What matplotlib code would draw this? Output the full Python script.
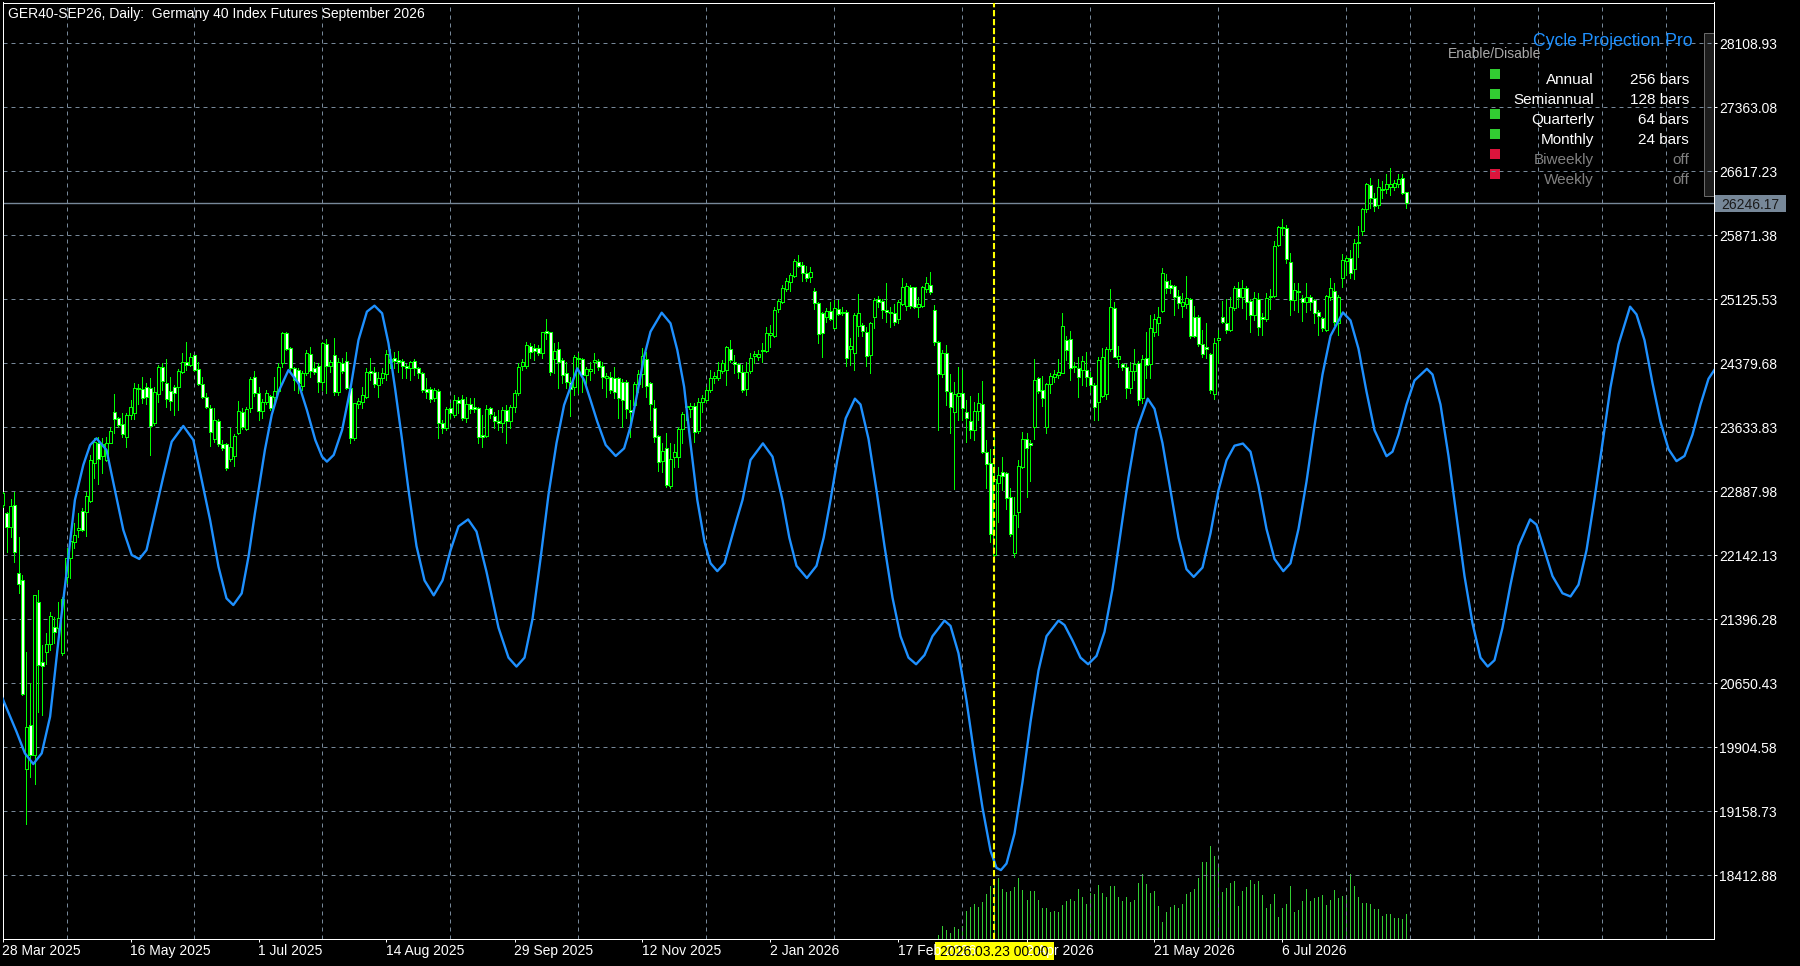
import matplotlib.pyplot as plt
from matplotlib.patches import Rectangle

plt.rcParams['font.family'] = ['Liberation Sans', 'DejaVu Sans']

header = 'GER40-SEP26, Daily:  Germany 40 Index Futures September 2026'

# daily bars, index 0 = 28 Mar 2025
opens = [
    22726, 22632, 22469, 22729, 21932, 21855, 19648, 20165, 19815, 21602,
    20895, 21020, 21109, 21311, 21291, 21000, 21894, 22107, 22302, 22437,
    22659, 22643, 22779, 23215, 23448, 23300, 23253, 23455, 23809, 23739,
    23673, 23525, 23778, 23797, 24096, 24077, 24100, 24096, 23680, 24023,
    24341, 24155, 24058, 24108, 24108, 24283, 24399, 24361, 24477, 24310,
    24135, 23984, 23863, 23498, 23712, 23436, 23436, 23261, 23300, 23572,
    23817, 23615, 23856, 24225, 24038, 23828, 23926, 23999, 23992, 24061,
    24380, 24730, 24555, 24322, 24302, 24116, 24263, 24485, 24329, 24353,
    24166, 24601, 24353, 24477, 24050, 24380, 24407, 24089, 23506, 23902,
    23925, 23991, 24291, 24283, 24127, 24205, 24256, 24426, 24438, 24419,
    24407, 24353, 24329, 24407, 24322, 24264, 24081, 24077, 23972, 24057,
    23681, 23630, 23855, 23778, 23953, 23964, 23747, 23902, 23867, 23863,
    23545, 23537, 23855, 23770, 23708, 23688, 23836, 23708, 23875, 24038,
    24349, 24353, 24586, 24562, 24562, 24504, 24757, 24741, 24426, 24547,
    24419, 24263, 24166, 24100, 24446, 24426, 24244, 24294, 24399, 24407,
    24349, 24213, 24224, 24213, 24205, 24166, 24158, 23836, 23894, 24139,
    24251, 24430, 24147, 23855, 23532, 23245, 23389, 22954, 23284, 23284,
    23610, 23871, 23844, 23886, 23591, 23925, 23952, 24069, 24213, 24213,
    24294, 24302, 24543, 24391, 24372, 24275, 24080, 24294, 24465, 24457,
    24523, 24523, 24710, 24702, 25009, 25091, 25246, 25331, 25398, 25557,
    25526, 25429, 25382, 25223, 25079, 24962, 24916, 24989, 24787, 25013,
    24962, 24974, 24543, 24496, 24819, 24826, 24741, 24477, 24916, 25126,
    25106, 25001, 24982, 24962, 24893, 25071, 25048, 25273, 25266, 25033,
    25052, 25242, 25293, 25001, 24624, 24251, 24496, 24049, 23809, 24003,
    24030, 23816, 23711, 23603, 23828, 23902, 23350, 23214, 22146, 22980,
    23110, 23098, 22826, 22173, 22643, 23175, 23494, 23447, 23642, 24213,
    24069, 23634, 24135, 24224, 24244, 24271, 24652, 24663, 24349, 24321,
    24302, 24302, 24224, 24127, 23933, 23999, 24018, 24543, 25021, 24430,
    24368, 24341, 24088, 24294, 24379, 23971, 24437, 24371, 24748, 24845,
    24993, 25339, 25292, 25284, 25164, 25051, 25071, 25125, 24923, 24915,
    24601, 24573, 24484, 24022, 24651, 24923, 24853, 24768, 25020, 25261,
    25156, 25261, 25106, 24942, 25125, 24915, 24892, 25164, 25164, 25758,
    25964, 25960, 25564, 25117, 25226, 25144, 25098, 25156, 25117, 24973,
    24904, 24767, 25156, 25222, 24845, 25378, 25572, 25611, 25475, 25785,
    25925, 26174, 26458, 26302, 26225, 26412, 26411, 26438, 26438, 26469,
    26535, 26372,
]
highs = [
    22886, 22651, 22795, 22884, 22352, 21913, 21020, 20650, 21680, 21738,
    21097, 21233, 21486, 21428, 21602, 21660, 22224, 22399, 22515, 22632,
    22690, 22884, 23312, 23506, 23525, 23506, 23525, 23634, 24019, 23758,
    23797, 23797, 23953, 24147, 24135, 24225, 24155, 24205, 24108, 24361,
    24380, 24427, 24217, 24127, 24310, 24497, 24633, 24497, 24477, 24399,
    24225, 24030, 23894, 23856, 23727, 23486, 23448, 23622, 23553, 23941,
    23856, 23875, 24225, 24295, 24108, 23960, 24069, 24011, 24225, 24388,
    24749, 24749, 24574, 24341, 24322, 24291, 24535, 24566, 24399, 24380,
    24624, 24663, 24419, 24671, 24438, 24438, 24508, 24127, 23914, 23972,
    24108, 24322, 24438, 24341, 24283, 24322, 24535, 24546, 24508, 24524,
    24426, 24376, 24407, 24426, 24341, 24283, 24205, 24108, 24089, 24077,
    23720, 23875, 23914, 24011, 23991, 24011, 23991, 23972, 23972, 23875,
    23778, 23894, 23875, 23817, 23836, 23875, 23894, 23894, 24069, 24380,
    24426, 24632, 24613, 24601, 24594, 24741, 24896, 24749, 24613, 24632,
    24446, 24399, 24224, 24477, 24496, 24438, 24341, 24399, 24496, 24426,
    24399, 24263, 24283, 24341, 24224, 24193, 24185, 23952, 24166, 24302,
    24554, 24516, 24166, 23952, 23544, 23447, 23564, 23447, 23439, 23641,
    23809, 23933, 23913, 23913, 23972, 24011, 24108, 24302, 24283, 24399,
    24419, 24582, 24652, 24477, 24387, 24360, 24399, 24496, 24523, 24535,
    24613, 24799, 24826, 25040, 25126, 25293, 25370, 25429, 25592, 25642,
    25564, 25514, 25506, 25254, 25098, 24982, 25021, 25098, 25118, 25118,
    25040, 25006, 24671, 24962, 25188, 24846, 24799, 24865, 25137, 25164,
    25126, 25312, 25032, 25071, 25118, 25370, 25320, 25293, 25273, 25157,
    25281, 25390, 25440, 25060, 24640, 24535, 24593, 24251, 24166, 24333,
    24302, 23952, 23999, 23933, 24038, 24174, 23486, 23377, 23546, 23166,
    23292, 23117, 22923, 22818, 23253, 23583, 23564, 23486, 24430, 24224,
    24232, 24147, 24271, 24302, 24426, 24970, 24698, 24760, 24399, 24457,
    24465, 24516, 24283, 24147, 24457, 24562, 24566, 25242, 25098, 24582,
    24380, 24368, 24391, 24542, 24406, 24476, 24748, 24942, 24954, 25040,
    25494, 25420, 25350, 25292, 25234, 25195, 25397, 25137, 25047, 24942,
    24768, 24845, 24503, 24670, 24768, 25109, 25125, 25156, 25280, 25331,
    25350, 25280, 25125, 25214, 25195, 24962, 25203, 25242, 25805, 25980,
    26058, 25991, 25661, 25319, 25311, 25176, 25319, 25176, 25125, 25001,
    24923, 25176, 25370, 25311, 25176, 25650, 25630, 25700, 25824, 25980,
    26186, 26477, 26535, 26361, 26524, 26508, 26586, 26652, 26516, 26586,
    26586, 26380,
]
lows = [
    22706, 22185, 22360, 22067, 21700, 20510, 19011, 19563, 19473, 20320,
    20281, 20876, 21039, 21117, 21225, 20981, 21816, 21874, 22224, 22360,
    22430, 22372, 22768, 23040, 22974, 23098, 23246, 23448, 23564, 23634,
    23525, 23401, 23731, 23731, 23906, 23914, 23906, 23312, 23661, 23933,
    24069, 23875, 23836, 23778, 23836, 24263, 24302, 24349, 24295, 24127,
    23972, 23856, 23417, 23467, 23417, 23370, 23139, 23246, 23183, 23556,
    23611, 23603, 23817, 23999, 23720, 23739, 23906, 23836, 23894, 24050,
    24341, 24535, 24264, 24069, 24030, 24069, 24244, 24225, 24255, 24042,
    24069, 24038, 24283, 24011, 24011, 24264, 24080, 23447, 23486, 23855,
    23855, 23972, 24187, 24108, 23991, 24147, 24186, 24322, 24322, 24283,
    24205, 24205, 24186, 24244, 24205, 24050, 23972, 23925, 23941, 23506,
    23564, 23603, 23739, 23758, 23797, 23720, 23700, 23797, 23817, 23447,
    23408, 23525, 23739, 23622, 23603, 23584, 23447, 23622, 23817, 24011,
    24304, 24322, 24438, 24419, 24477, 24446, 24666, 24244, 24264, 24089,
    24146, 24088, 23770, 24011, 24030, 24050, 24139, 24186, 24263, 24302,
    24088, 23991, 24030, 23972, 23739, 23642, 23739, 23525, 23836, 24049,
    24108, 23991, 23719, 23466, 23128, 23117, 22942, 22923, 23167, 23175,
    23447, 23719, 23758, 23459, 23564, 23816, 23933, 24049, 24147, 24186,
    24263, 24127, 24399, 24263, 24205, 24050, 24010, 24263, 24379, 24418,
    24399, 24516, 24574, 24690, 24982, 25079, 25223, 25223, 25390, 25506,
    25343, 25343, 25324, 25013, 24613, 24449, 24865, 24885, 24780, 24943,
    24943, 24346, 24360, 24302, 24702, 24698, 24352, 24271, 24787, 25040,
    24904, 24865, 24807, 24826, 24846, 25059, 25001, 25029, 25021, 24916,
    25033, 25215, 25184, 24593, 23603, 24224, 23894, 23564, 22915, 23719,
    23719, 23466, 23506, 23486, 23719, 23331, 22923, 22301, 22096, 22534,
    22904, 22678, 22368, 22118, 22476, 23156, 22826, 23012, 23494, 24030,
    23883, 23572, 24038, 24166, 24205, 24263, 24419, 24186, 24283, 23983,
    24127, 24115, 24050, 23719, 23719, 23983, 23960, 24527, 24450, 24341,
    24302, 23981, 24030, 24185, 23900, 23920, 24204, 24204, 24698, 24710,
    24981, 25203, 25195, 24942, 25020, 24923, 25020, 24671, 24690, 24581,
    24457, 24437, 24030, 23960, 24379, 24845, 24729, 24760, 25001, 25040,
    25020, 24892, 24748, 24884, 24710, 24710, 24873, 25012, 25156, 25747,
    25875, 25545, 24942, 25001, 24981, 24877, 24981, 25001, 24845, 24710,
    24760, 24760, 25117, 24826, 24710, 25265, 25409, 25370, 25362, 25622,
    25875, 26147, 26186, 26159, 26186, 26302, 26361, 26341, 26399, 26430,
    26349, 26186,
]
closes = [
    22866, 22476, 22717, 22177, 21804, 20526, 20138, 19815, 21680, 20864,
    20856, 21109, 21435, 21245, 21408, 21629, 22107, 22309, 22379, 22457,
    22438, 22834, 23253, 23467, 23261, 23440, 23455, 23595, 23731, 23661,
    23553, 23778, 23875, 24096, 24081, 23972, 23984, 23650, 24042, 24333,
    24174, 23964, 23941, 24030, 24291, 24399, 24361, 24458, 24302, 24135,
    23992, 23875, 23584, 23719, 23436, 23397, 23164, 23401, 23537, 23828,
    23634, 23848, 24194, 24030, 23828, 23926, 24030, 23856, 24061, 24341,
    24737, 24543, 24322, 24186, 24155, 24271, 24504, 24291, 24283, 24159,
    24613, 24349, 24392, 24050, 24399, 24291, 24089, 23506, 23914, 23941,
    24011, 24275, 24271, 24135, 24205, 24264, 24489, 24399, 24407, 24396,
    24349, 24329, 24392, 24322, 24264, 24069, 24050, 23960, 24069, 23688,
    23630, 23848, 23797, 23953, 23914, 23747, 23906, 23844, 23844, 23525,
    23525, 23848, 23786, 23708, 23681, 23836, 23708, 23875, 24030, 24341,
    24392, 24594, 24508, 24524, 24496, 24741, 24730, 24283, 24524, 24392,
    24244, 24158, 24080, 24450, 24431, 24244, 24314, 24314, 24419, 24341,
    24216, 24236, 24069, 24050, 23972, 23952, 23847, 23816, 24139, 24251,
    24469, 24119, 23902, 23517, 23226, 23358, 22962, 23261, 23351, 23610,
    23789, 23886, 23882, 23583, 23925, 23972, 24069, 24213, 24236, 24302,
    24387, 24566, 24418, 24368, 24274, 24069, 24282, 24446, 24484, 24488,
    24535, 24729, 24729, 25001, 25106, 25254, 25339, 25409, 25572, 25518,
    25429, 25370, 25440, 25079, 24717, 24729, 24993, 24896, 25020, 24954,
    24974, 24446, 24582, 24943, 24962, 24760, 24469, 24846, 25118, 25091,
    25001, 24982, 24962, 24865, 25091, 25265, 25281, 25052, 25033, 25068,
    25265, 25320, 25215, 24624, 24251, 24496, 24057, 23867, 24018, 24030,
    23855, 23739, 23603, 23828, 23913, 23350, 23206, 22391, 23036, 23077,
    23071, 22806, 22391, 22612, 23187, 23498, 23389, 23428, 24186, 24061,
    23972, 24135, 24232, 24251, 24275, 24815, 24535, 24321, 24333, 24217,
    24411, 24217, 24127, 23875, 24419, 24450, 24543, 25040, 24457, 24465,
    24333, 24089, 24294, 24371, 23953, 24426, 24359, 24787, 24892, 24915,
    25428, 25261, 25261, 25148, 25078, 25090, 25137, 24702, 24702, 24601,
    24488, 24546, 24068, 24620, 24678, 24857, 24768, 25032, 25261, 25156,
    25261, 25098, 24942, 25144, 24807, 24892, 25144, 25156, 25751, 25964,
    25953, 25595, 25117, 25234, 25215, 25090, 25148, 25098, 24962, 24935,
    24787, 25164, 25253, 24865, 25156, 25584, 25603, 25436, 25778, 25790,
    26174, 26465, 26302, 26217, 26438, 26400, 26465, 26469, 26477, 26527,
    26361, 26246.17,
]

# tick volume, first value belongs to bar 234
vol_start = 234
volumes = [
    12, 39, 27, 19, 35, 29, 39, 84, 95, 105, 95, 110, 135, 159, 167, 182,
    149, 142, 144, 155, 182, 147, 117, 144, 144, 117, 92, 92, 82, 84, 82,
    102, 115, 119, 114, 149, 125, 105, 137, 135, 162, 139, 125, 159, 159,
    125, 115, 127, 112, 117, 167, 195, 165, 139, 145, 99, 52, 82, 97, 102,
    92, 105, 135, 142, 149, 182, 231, 231, 279, 249, 217, 142, 152, 169,
    174, 99, 144, 157, 177, 165, 174, 132, 92, 105, 135, 65, 92, 105, 159,
    82, 87, 115, 149, 115, 122, 127, 132, 102, 117, 147, 122, 129, 132, 195,
    159, 125, 109, 109, 105, 89, 89, 69, 75, 74, 62, 64, 59, 75,
]

# cycle projection curve (bar index, price)
cycle_x = [
    0, 3.5, 5.6, 7.7, 9.8, 11.9, 14, 16, 18.1, 20.2, 21.9, 23.5, 26, 28.1,
    30.2, 32.3, 34.2, 36, 38.1, 40.2, 42.3, 45.2, 47.7, 49.8, 51.9, 54, 56,
    57.7, 59.8, 61.5, 63.1, 65.6, 67.3, 69, 71.5, 74, 76.1, 78.2, 79.9, 81.1,
    82.8, 84.9, 87, 89, 91.1, 93, 94.9, 96.5, 98.2, 99.9, 101.5, 103.5,
    105.5, 107.8, 110, 112, 114, 116.4, 118.5, 121, 124, 126.5, 128.5, 130.5,
    132.5, 134.5, 136.5, 138.5, 140.4, 143.7, 145.4, 147, 148.7, 150.8,
    153.3, 155.4, 157, 158.7, 160.4, 162, 164.8, 167, 168.7, 170.4, 172,
    173.7, 175.5, 177, 178.7, 180.5, 182, 183.5, 185, 187, 190.1, 192.5, 195,
    196.7, 198.5, 201.1, 203.5, 205.3, 207, 208.7, 210.8, 213.1, 214.5,
    216.5, 218.5, 220.5, 222.5, 224.5, 226.5, 228.4, 230.5, 232.5, 235.5,
    237, 239, 241, 243, 245, 247, 248.5, 249.6, 251, 253, 255, 257, 259, 261,
    264, 265.5, 267.5, 269.5, 271.4, 273.5, 275.5, 277.5, 279.5, 281.5,
    283.5, 286.3, 288, 290, 292, 294, 296, 297.8, 300, 302, 304, 306, 308,
    310.1, 312, 314, 316, 318, 320.2, 322, 324, 326, 328, 330, 332, 335.1,
    337, 339, 341, 343, 346, 347.5, 349, 351, 353, 356.1, 357.5, 359.5,
    361.5, 363.5, 365.5, 367.5, 369.5, 371.3, 373, 375, 377, 379, 381.9,
    383.5, 385.5, 387.5, 390, 392, 394, 396, 398, 400, 402, 404, 406.9,
    408.5, 410.5, 412.5, 414.5, 416.5, 418.5, 420.5, 422.5, 424.5, 426.5, 428,
]
cycle_y = [
    20476, 20087, 19835, 19710, 19835, 20262, 21156, 21932, 22787, 23195,
    23428, 23506, 23370, 22904, 22438, 22146, 22100, 22204, 22632, 23059,
    23467, 23650, 23487, 23020, 22554, 22010, 21641, 21563, 21699, 22127,
    22632, 23370, 23778, 24050, 24302, 24147, 23836, 23486, 23292, 23234,
    23312, 23603, 24088, 24652, 24982, 25052, 24963, 24613, 24069, 23486,
    22904, 22250, 21850, 21676, 21850, 22200, 22480, 22561, 22420, 21950,
    21300, 20950, 20846, 20950, 21400, 22100, 22850, 23450, 23894, 24321,
    24185, 23952, 23700, 23428, 23300, 23389, 23641, 24030, 24457, 24749,
    24970, 24846, 24535, 24108, 23447, 22787, 22300, 22050, 21958, 22050,
    22300, 22550, 22787, 23253, 23447, 23292, 22787, 22350, 22020, 21878,
    22020, 22350, 22787, 23253, 23739, 23968, 23900, 23500, 22900, 22250,
    21650, 21200, 20950, 20873, 20980, 21200, 21382, 21320, 21000, 20450,
    19800, 19200, 18700, 18500, 18474, 18550, 18900, 19500, 20200, 20800,
    21200, 21382, 21330, 21150, 20950, 20873, 20970, 21250, 21750, 22400,
    23050, 23600, 23968, 23850, 23450, 22900, 22350, 21980, 21891, 22000,
    22400, 22900, 23250, 23420, 23445, 23350, 22950, 22450, 22100, 21958,
    22050, 22450, 23000, 23650, 24250, 24700, 24973, 24880, 24550, 24050,
    23600, 23298, 23350, 23550, 23900, 24180, 24316, 24250, 23900, 23300,
    22600, 21900, 21350, 20950, 20846, 20920, 21300, 21800, 22250, 22561,
    22500, 22200, 21900, 21700, 21663, 21800, 22200, 22800, 23450, 24100,
    24600, 25040, 24950, 24650, 24150, 23700, 23380, 23240, 23300, 23550,
    23900, 24200, 24305,
]

price_ticks = [28108.93, 27363.08, 26617.23, 25871.38, 25125.53, 24379.68,
               23633.83, 22887.98, 22142.13, 21396.28, 20650.43, 19904.58,
               19158.73, 18412.88]
date_ticks = [0, 32, 64, 96, 128, 160, 192, 224, 256, 288, 320]
date_labels = ['28 Mar 2025', '16 May 2025', '1 Jul 2025', '14 Aug 2025',
               '29 Sep 2025', '12 Nov 2025', '2 Jan 2026', '17 Feb 2026',
               '2 Apr 2026', '21 May 2026', '6 Jul 2026']
marker_bar = 248
marker_label = '2026.03.23 00:00'
last_price = 26246.17

cycle_names = ['Annual', 'Semiannual', 'Quarterly', 'Monthly', 'Biweekly', 'Weekly']
cycle_lengths = ['256 bars', '128 bars', '64 bars', '24 bars', 'off', 'off']
cycle_on = [True, True, True, True, False, False]

W, H = 1800, 966
PX = 72 / 100  # one pixel in points
fig = plt.figure(figsize=(W / 100, H / 100), dpi=100, facecolor='black')


def fx(x):
    return x / W


def fy(y):
    return 1 - y / H


ax = fig.add_axes([fx(2.5), fy(939), (1714.3 - 2.5) / W, (939 - 2.5) / H])
vax = ax.twinx()
ax.set_zorder(vax.get_zorder() + 1)
ax.patch.set_visible(False)
vax.set_facecolor('black')

ax.set_xlim(0, 427.95)
ax.set_ylim(17671, 28585)

grid_col = '#778899'
ax.yaxis.tick_right()
ax.set_yticks(price_ticks)
ax.set_yticklabels([f'{p:.2f}' for p in price_ticks])
ax.set_xticks(date_ticks)
ax.set_xticklabels(date_labels, ha='left')
ax.set_xticks(range(16, 428, 16), minor=True)
ax.tick_params(axis='x', which='minor', length=0)
ax.tick_params(axis='both', which='major', colors='white', labelsize=10,
               length=2.5, width=PX, pad=0.8)
ax.grid(True, axis='y', which='major', color=grid_col, lw=PX, ls=(0, (4, 4)))
ax.grid(True, axis='x', which='minor', color=grid_col, lw=PX, ls=(0, (4, 4)))
ax.set_axisbelow(True)
for s in ax.spines.values():
    s.set_color('white')
    s.set_linewidth(PX)

# volume in the bottom of the window
vax.set_ylim(0, max(volumes) / 0.0993)
vax.vlines(range(vol_start, vol_start + len(volumes)), 0, volumes,
           color='#32CD32', lw=PX, antialiased=False)
vax.set_axis_off()

# candles
bars = range(len(closes))
green = '#00ff00'
ax.vlines(bars, lows, highs, color=green, lw=PX, antialiased=False, zorder=3)
body_low = [min(o, c) for o, c in zip(opens, closes)]
body_h = [abs(c - o) for o, c in zip(opens, closes)]
fills = ['white' if c < o else 'black' for o, c in zip(opens, closes)]
ax.bar(bars, body_h, bottom=body_low, width=0.55, color=fills, edgecolor=green,
       linewidth=PX, antialiased=False, zorder=4)

ax.axhline(last_price, color=grid_col, lw=1.0, zorder=2)
ax.plot(cycle_x, cycle_y, color='#1E90FF', lw=1.7, zorder=5)
ax.axvline(marker_bar, color='#ffff00', lw=1.5, ls=(0, (3, 1.3)), zorder=6)

# header
fig.text(fx(8), fy(18), header, color='white', fontsize=10, va='baseline')

# price label of last bar
fig.add_artist(Rectangle((fx(1715), fy(212)), 71 / W, 17.5 / H,
                         transform=fig.transFigure, facecolor=grid_col, edgecolor='none'))
fig.text(fx(1721), fy(203.3), f'{last_price:.2f}', color='#1a1a1a', fontsize=10,
         va='center_baseline')

# marker date label
fig.add_artist(Rectangle((fx(934.5), fy(960)), 119.5 / W, 18 / H,
                         transform=fig.transFigure, facecolor='#ffff00', edgecolor='none'))
fig.text(fx(994), fy(955.6), marker_label, color='black', fontsize=10,
         ha='center', va='baseline')

# indicator panel
fig.add_artist(Rectangle((fx(1704.3), fy(196)), 10 / W, 162.7 / H,
                         transform=fig.transFigure, facecolor='#1c1c1c',
                         edgecolor='#6a6a6a', lw=PX))
fig.text(fx(1693), fy(46), 'Cycle Projection Pro', color='#1E90FF', fontsize=12.7,
         ha='right', va='baseline')
fig.text(fx(1448), fy(58.3), 'Enable/Disable', color='#A9A9A9', fontsize=10,
         va='baseline')
for k, (name, length, on) in enumerate(zip(cycle_names, cycle_lengths, cycle_on)):
    yc = 74.3 + 20 * k
    fig.add_artist(Rectangle((fx(1490), fy(yc + 5)), 10 / W, 10 / H,
                             transform=fig.transFigure,
                             facecolor='#32CD32' if on else '#DC143C', edgecolor='none'))
    col = 'white' if on else '#808080'
    fig.text(fx(1594), fy(yc + 9.7), name, color=col, fontsize=11, ha='right', va='baseline')
    fig.text(fx(1689), fy(yc + 9.7), length, color=col, fontsize=11, ha='right', va='baseline')

fig.savefig('out.png', dpi=100, facecolor='black')
